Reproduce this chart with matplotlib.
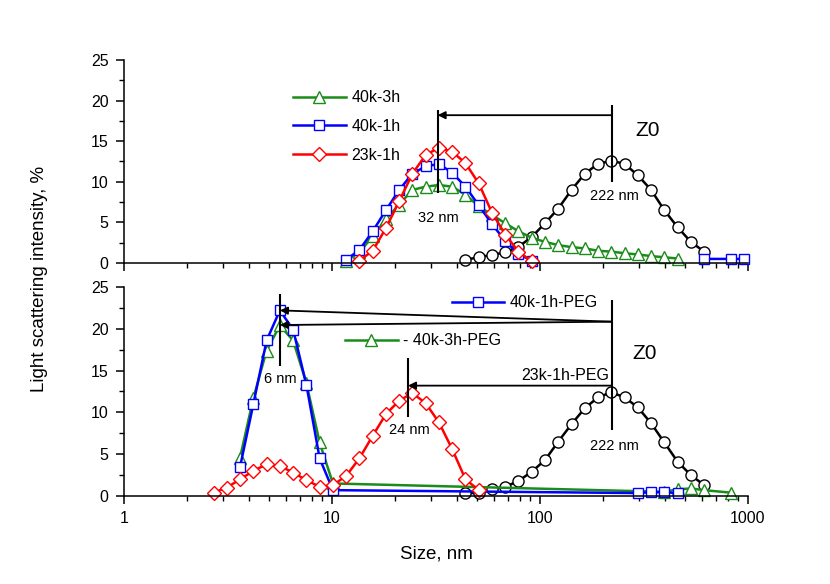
"""
DLS size distributions: Z0 vs. treated samples, with and without PEG.
Two stacked panels sharing a log size axis.
"""

import matplotlib
matplotlib.use("Agg")
import matplotlib.pyplot as plt
import numpy as np
from matplotlib.lines import Line2D
from matplotlib.ticker import MultipleLocator, LogLocator, NullFormatter

plt.rcParams["font.family"] = ["Liberation Sans", "DejaVu Sans"]

GREEN = "#1a8c1a"
BLUE = "#0000ff"
RED = "#ff0000"
BLACK = "#000000"

# ── Top panel data (size in nm, intensity in %) ──
z0_top_size = [43.82, 50.75, 58.77, 68.06, 78.82, 91.28, 105.7, 122.4, 141.8, 164.2,
               190.1, 220.2, 255.0, 295.3, 342.0, 396.1, 458.7, 531.2, 615.1]
z0_top_val = [0.4, 0.7, 1.0, 1.3, 2.0, 3.2, 4.9, 6.7, 9.0, 11.0,
              12.2, 12.6, 12.2, 10.8, 9.0, 6.5, 4.4, 2.6, 1.4]

k40_3h_size = [11.70, 13.54, 15.69, 18.17, 21.04, 24.36, 28.21, 32.67, 37.84, 43.82,
               50.75, 58.77, 68.06, 78.82, 91.28, 105.7, 122.4, 141.8, 164.2, 190.1,
               220.2, 255.0, 295.3, 342.0, 396.1, 458.7]
k40_3h_val = [0.3, 1.3, 3.3, 5.4, 7.2, 9.0, 9.4, 9.6, 9.4, 8.4,
              7.0, 5.9, 4.9, 3.9, 3.1, 2.6, 2.2, 1.95, 1.8, 1.5,
              1.4, 1.2, 1.05, 0.85, 0.7, 0.55]

k40_1h_size = [11.70, 13.54, 15.69, 18.17, 21.04, 24.36, 28.21, 32.67, 37.84, 43.82,
               50.75, 58.77, 68.06, 78.82, 91.28, 300.0, 615.1, 825.0, 955.4]
k40_1h_val = [0.4, 1.6, 3.9, 6.5, 9.0, 11.0, 11.9, 12.2, 11.1, 9.4,
              7.1, 4.8, 2.7, 1.1, 0.3, np.nan, 0.5, 0.5, 0.5]

k23_1h_size = [13.54, 15.69, 18.17, 21.04, 24.36, 28.21, 32.67, 37.84, 43.82, 50.75,
               58.77, 68.06, 78.82, 91.28]
k23_1h_val = [0.3, 1.5, 4.3, 7.6, 11.0, 13.3, 14.2, 13.7, 12.3, 9.8,
              6.2, 3.5, 1.4, 0.2]

# ── Bottom panel data ──
z0_bot_size = [43.82, 50.75, 58.77, 68.06, 78.82, 91.28, 105.7, 122.4, 141.8, 164.2,
               190.1, 220.2, 255.0, 295.3, 342.0, 396.1, 458.7, 531.2, 615.1]
z0_bot_val = [0.3, 0.4, 0.8, 1.1, 1.8, 2.9, 4.3, 6.5, 8.6, 10.5,
              11.8, 12.4, 11.8, 10.6, 8.7, 6.4, 4.1, 2.5, 1.3]

peg40_3h_size = [3.615, 4.187, 4.849, 5.615, 6.503, 7.531, 8.721, 10.10,
                 396.1, 458.7, 531.2, 615.1, 825.0]
peg40_3h_val = [4.6, 11.7, 17.4, 20.4, 18.6, 13.5, 6.4, 1.5,
                0.5, 0.8, 0.9, 0.7, 0.4]

peg40_1h_size = [3.615, 4.187, 4.849, 5.615, 6.503, 7.531, 8.721, 10.10,
                 295.3, 342.0, 396.1, 458.7]
peg40_1h_val = [3.5, 11.0, 18.6, 22.2, 19.9, 13.3, 4.5, 0.7,
                0.35, 0.45, 0.45, 0.35]

peg23_1h_size = [2.696, 3.122, 3.615, 4.187, 4.849, 5.615, 6.503, 7.531, 8.721, 10.10,
                 11.70, 13.54, 15.69, 18.17, 21.04, 24.36, 28.21, 32.67, 37.84, 43.82,
                 50.75]
peg23_1h_val = [0.4, 1.0, 2.0, 3.0, 3.8, 3.6, 2.8, 1.9, 1.1, 1.3,
                2.4, 4.5, 7.2, 9.8, 11.4, 12.3, 11.1, 8.8, 5.6, 2.0,
                0.7]

X_TICKS = [1, 10, 100, 1000]
X_TICK_LABELS = ["1", "10", "100", "1000"]


def style_axis(ax, show_xlabels):
    ax.set_xscale("log")
    ax.set_xlim(1, 1000)
    ax.set_ylim(0, 25)
    ax.spines["top"].set_visible(False)
    ax.spines["right"].set_visible(False)
    for s in ("left", "bottom"):
        ax.spines[s].set_linewidth(1.1)
    ax.yaxis.set_major_locator(MultipleLocator(5))
    ax.yaxis.set_minor_locator(MultipleLocator(2.5))
    ax.set_xticks(X_TICKS)
    ax.set_xticklabels(X_TICK_LABELS if show_xlabels else [])
    ax.xaxis.set_minor_locator(LogLocator(base=10, subs=np.arange(2, 10), numticks=20))
    ax.xaxis.set_minor_formatter(NullFormatter())
    ax.tick_params(which="major", direction="out", length=6, width=1.1, labelsize=11.5, pad=5)
    ax.tick_params(which="minor", direction="out", length=3.5, width=1.0)


def draw(ax, x, y, color, marker, ms, label=None):
    ax.plot(x, y, color=color, lw=1.8, marker=marker, ms=ms, mfc="white",
            mec=color, mew=1.0, clip_on=False, label=label)


def arrow(ax, start, end):
    ax.annotate("", xy=end, xytext=start,
                arrowprops=dict(arrowstyle="-|>", color="k", lw=1.3,
                                mutation_scale=11, shrinkA=0, shrinkB=0))


fig = plt.figure(figsize=(8.3, 5.84), dpi=100)
ax_top = fig.add_axes([0.1494, 0.5497, 0.7518, 0.3476])
ax_bot = fig.add_axes([0.1494, 0.1507, 0.7518, 0.3579])
style_axis(ax_top, False)
style_axis(ax_bot, True)

# ── Top panel ──
draw(ax_top, z0_top_size, z0_top_val, BLACK, "o", 8)
draw(ax_top, k40_3h_size, k40_3h_val, GREEN, "^", 8)
draw(ax_top, k40_1h_size, k40_1h_val, BLUE, "s", 7)
draw(ax_top, k23_1h_size, k23_1h_val, RED, "D", 7)

ax_top.vlines(32.2, 8.6, 18.9, color="k", lw=1.5)
ax_top.vlines(222, 10.0, 19.5, color="k", lw=1.5)
arrow(ax_top, (222, 18.2), (32.2, 18.2))
ax_top.text(32.5, 5.6, "32 nm", ha="center", va="center", fontsize=10.5)
ax_top.text(228, 8.3, "222 nm", ha="center", va="center", fontsize=10.5)
ax_top.text(330, 16.3, "Z0", ha="center", va="center", fontsize=15)

top_handles = [
    Line2D([], [], color=GREEN, lw=1.8, marker="^", ms=8, mfc="white", mec=GREEN),
    Line2D([], [], color=BLUE, lw=1.8, marker="s", ms=7, mfc="white", mec=BLUE),
    Line2D([], [], color=RED, lw=1.8, marker="D", ms=7, mfc="white", mec=RED),
]
ax_top.legend(top_handles, ["40k-3h", "40k-1h", "23k-1h"], loc="upper left",
              bbox_to_anchor=(0.271, 0.85), frameon=False, fontsize=11.5,
              handlelength=3.3, handletextpad=0.35, labelspacing=0.85,
              borderpad=0, borderaxespad=0, numpoints=1)

# ── Bottom panel ──
draw(ax_bot, z0_bot_size, z0_bot_val, BLACK, "o", 8)
draw(ax_bot, peg40_3h_size, peg40_3h_val, GREEN, "^", 8)
draw(ax_bot, peg40_1h_size, peg40_1h_val, BLUE, "s", 7)
draw(ax_bot, peg23_1h_size, peg23_1h_val, RED, "D", 7)

ax_bot.vlines(5.62, 15.5, 24.2, color="k", lw=1.5)
ax_bot.vlines(222, 7.9, 23.4, color="k", lw=1.5)
ax_bot.vlines(23.2, 9.5, 16.5, color="k", lw=1.5)
arrow(ax_bot, (222, 20.85), (5.62, 22.2))
arrow(ax_bot, (222, 20.85), (5.62, 20.45))
arrow(ax_bot, (222, 13.2), (23.2, 13.2))
ax_bot.text(5.62, 14.0, "6 nm", ha="center", va="center", fontsize=10.5)
ax_bot.text(23.5, 7.9, "24 nm", ha="center", va="center", fontsize=10.5)
ax_bot.text(228, 6.0, "222 nm", ha="center", va="center", fontsize=10.5)
ax_bot.text(215, 14.4, "23k-1h-PEG", ha="right", va="center", fontsize=11.5)
ax_bot.text(320, 17.1, "Z0", ha="center", va="center", fontsize=15)

leg1 = ax_bot.legend(
    [Line2D([], [], color=BLUE, lw=1.8, marker="s", ms=7, mfc="white", mec=BLUE)],
    ["40k-1h-PEG"], loc="upper left", bbox_to_anchor=(0.525, 0.96), frameon=False,
    fontsize=11.5, handlelength=3.3, handletextpad=0.35, borderpad=0, borderaxespad=0,
    numpoints=1)
ax_bot.add_artist(leg1)
ax_bot.legend(
    [Line2D([], [], color=GREEN, lw=1.8, marker="^", ms=8, mfc="white", mec=GREEN)],
    ["- 40k-3h-PEG"], loc="upper left", bbox_to_anchor=(0.354, 0.778), frameon=False,
    fontsize=11.5, handlelength=3.3, handletextpad=0.35, borderpad=0, borderaxespad=0,
    numpoints=1)

ax_bot.set_xlabel("Size, nm", fontsize=13.5, labelpad=14)
fig.text(0.048, 0.523, "Light scattering intensity, %", rotation=90,
         ha="center", va="center", fontsize=13.5)

fig.savefig("out.png", dpi=100)
